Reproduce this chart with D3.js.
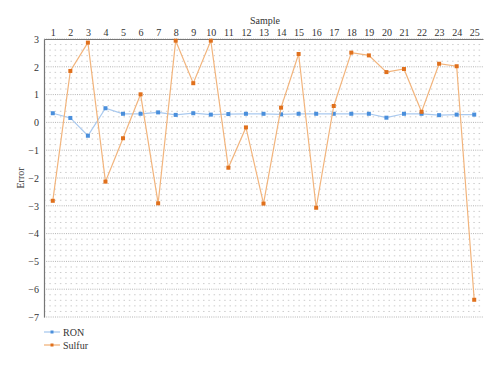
<!DOCTYPE html>
<html>
<head>
<meta charset="utf-8">
<script src="https://cdn.jsdelivr.net/npm/d3@7"></script>
<style>
  body { margin: 0; background: #fff; }
  svg text { font-family: "Liberation Serif", "DejaVu Serif", serif !important; fill: #333; }
</style>
</head>
<body>
<svg id="chart" width="500" height="365"></svg>
<script>
// data
var samples = d3.range(1, 26);
var ron = [0.33, 0.16, -0.48, 0.51, 0.31, 0.31, 0.36, 0.27, 0.33, 0.28, 0.3, 0.31, 0.31,
           0.29, 0.31, 0.31, 0.31, 0.31, 0.31, 0.17, 0.31, 0.31, 0.26, 0.28, 0.28];
var sulfur = [-2.82, 1.85, 2.87, -2.13, -0.57, 1.01, -2.91, 2.94, 1.41, 2.94, -1.63, -0.18, -2.92,
              0.53, 2.46, -3.07, 0.59, 2.51, 2.41, 1.81, 1.92, 0.38, 2.11, 2.02, -6.38];
var yTicks = [3, 2, 1, 0, -1, -2, -3, -4, -5, -6, -7];
var seriesNames = ["RON", "Sulfur"];
var pointColors = ["#4a8fdc", "#e0701c"];
var lineColors = ["#a9c9ef", "#f2b47c"];

var svg = d3.select("#chart");
var plotLeft = 44, plotRight = 483, plotTop = 39, plotBottom = 317;

var x = d3.scaleLinear().domain([0.5, 25.5]).range([plotLeft, plotRight]);
var y = d3.scaleLinear().domain([-7, 3]).range([plotBottom, plotTop]);

// grid
var grid = svg.append("g");
var minor = d3.range(-70, 31, 2).map(function(v){ return v / 10; })
  .filter(function(v){ return Math.abs(v - Math.round(v)) > 1e-6; });
grid.selectAll(".minor").data(minor).enter().append("line")
  .attr("x1", plotLeft).attr("x2", plotRight)
  .attr("y1", function(d){ return y(d); }).attr("y2", function(d){ return y(d); })
  .attr("stroke", "#cccccc").attr("stroke-width", 1)
  .attr("stroke-dasharray", "1.5,3.8");
grid.selectAll(".major").data(yTicks).enter().append("line")
  .attr("x1", plotLeft).attr("x2", plotRight)
  .attr("y1", function(d){ return y(d); }).attr("y2", function(d){ return y(d); })
  .attr("stroke", "#b4b4b4").attr("stroke-width", 1)
  .attr("stroke-dasharray", "1,1.2");

// axes
var xAxis = d3.axisTop(x).tickValues(samples).tickSize(0).tickPadding(3);
var gx = svg.append("g").attr("transform", "translate(0," + plotTop + ")").call(xAxis);
gx.attr("font-family", null);
gx.select(".domain").attr("stroke", "#777").attr("stroke-width", 1.2);
gx.selectAll("text").attr("font-size", 10).attr("fill", "#333");

var yAxis = d3.axisLeft(y).tickValues(yTicks).tickSize(0).tickPadding(5)
  .tickFormat(function(d){ return d < 0 ? "\u2212" + Math.abs(d) : d; });
var gy = svg.append("g").attr("transform", "translate(" + plotLeft + ",0)").call(yAxis);
gy.attr("font-family", null);
gy.select(".domain").attr("stroke", "#777").attr("stroke-width", 1.2);
gy.selectAll("text").attr("font-size", 10).attr("fill", "#333");

svg.append("text").attr("x", 265).attr("y", 24).attr("text-anchor", "middle")
  .attr("font-size", 10).text("Sample");
svg.append("text").attr("transform", "translate(24," + y(-2) + ") rotate(-90)")
  .attr("text-anchor", "middle").attr("font-size", 10).text("Error");

// series
var series = [ron, sulfur];
var line = d3.line()
  .x(function(d, i){ return x(samples[i]); })
  .y(function(d){ return y(d); });

series.forEach(function(values, k){
  var g = svg.append("g");
  g.append("path").datum(values)
    .attr("d", line).attr("fill", "none")
    .attr("stroke", lineColors[k]).attr("stroke-width", 1.2);
  g.selectAll("rect").data(values).enter().append("rect")
    .attr("x", function(d, i){ return x(samples[i]) - 2; })
    .attr("y", function(d){ return y(d) - 2; })
    .attr("width", 4).attr("height", 4)
    .attr("fill", pointColors[k]);
});

// legend
var legend = svg.append("g");
seriesNames.forEach(function(name, k){
  var ly = 332 + k * 13;
  legend.append("line").attr("x1", 44).attr("x2", 60).attr("y1", ly).attr("y2", ly)
    .attr("stroke", lineColors[k]).attr("stroke-width", 1.3);
  legend.append("rect").attr("x", 50.5).attr("y", ly - 1.5).attr("width", 3).attr("height", 3)
    .attr("fill", pointColors[k]);
  legend.append("text").attr("x", 63).attr("y", ly + 3.5).attr("font-size", 10).text(name);
});
</script>
</body>
</html>
